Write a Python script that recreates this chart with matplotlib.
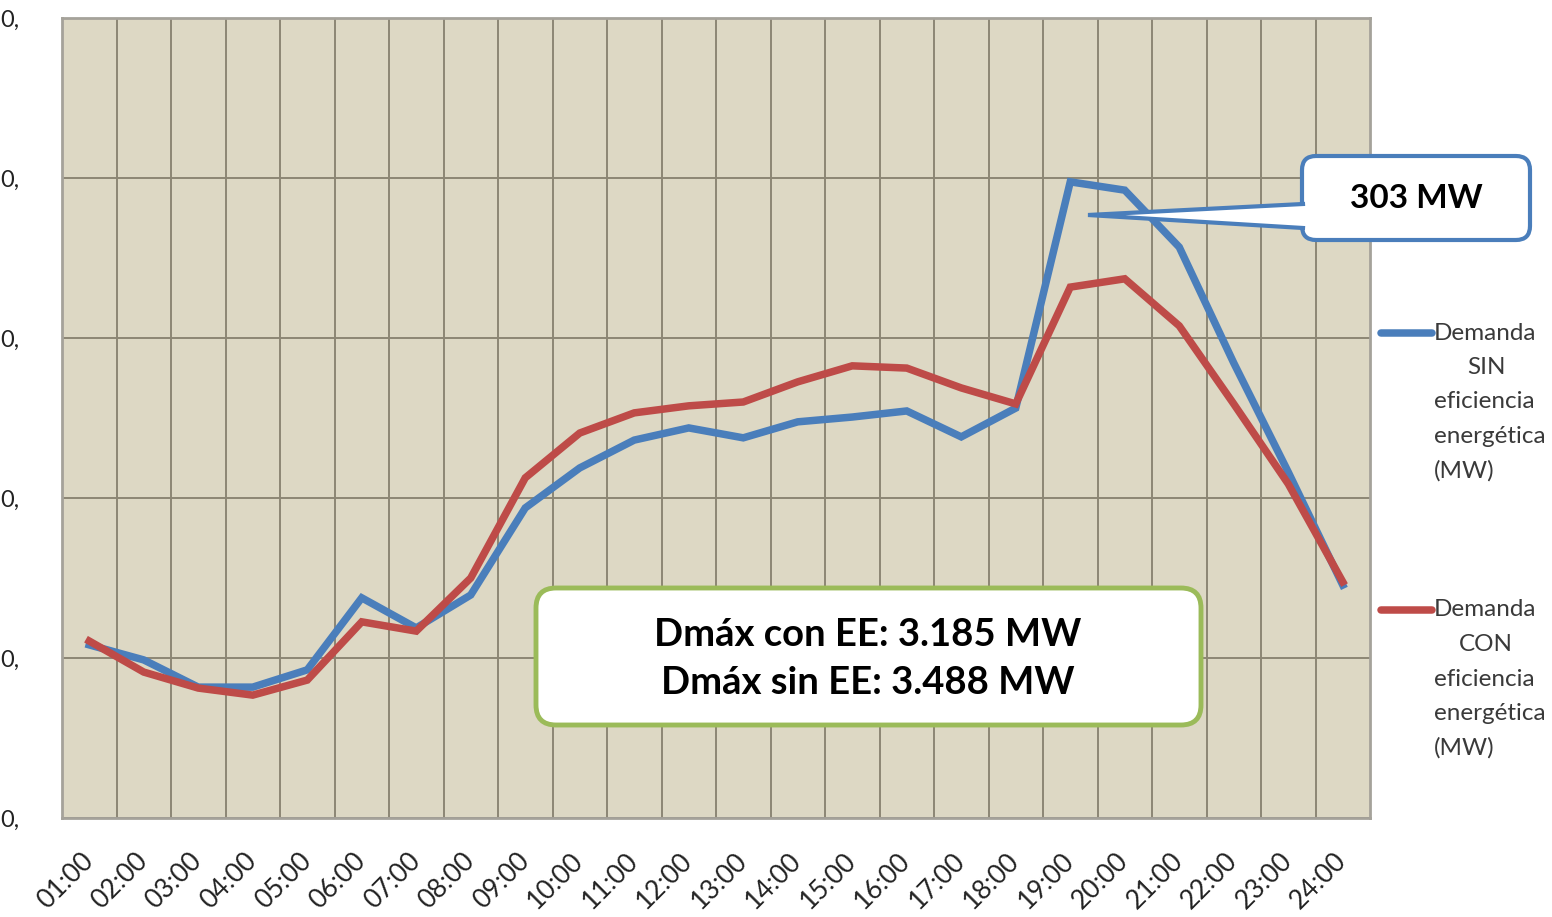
import matplotlib
matplotlib.use("Agg")
import matplotlib.pyplot as plt
from matplotlib.patches import FancyBboxPatch, Polygon

plt.rcParams['font.family'] = ['Lato', 'DejaVu Sans']

hours = ["01:00", "02:00", "03:00", "04:00", "05:00", "06:00", "07:00", "08:00",
         "09:00", "10:00", "11:00", "12:00", "13:00", "14:00", "15:00", "16:00",
         "17:00", "18:00", "19:00", "20:00", "21:00", "22:00", "23:00", "24:00"]
sin_ee = [2041, 1994, 1909, 1909, 1963, 2188, 2094, 2197, 2469, 2594, 2681, 2719,
          2688, 2738, 2753, 2772, 2691, 2781, 3488, 3462, 3284, 2922, 2581, 2228]
con_ee = [2053, 1956, 1906, 1884, 1931, 2113, 2084, 2250, 2563, 2703, 2766, 2788,
          2800, 2863, 2913, 2906, 2844, 2794, 3159, 3185, 3038, 2794, 2544, 2238]
y_ticks = [1500, 2000, 2500, 3000, 3500, 4000]
y_tick_labels = ["0,", "0,", "0,", "0,", "0,", "0,"]
legend_sin = ["Demanda", "SIN", "eficiencia", "energética", "(MW)"]
legend_con = ["Demanda", "CON", "eficiencia", "energética", "(MW)"]
callout_text = "303 MW"
box_text = "Dmáx con EE: 3.185 MW\nDmáx sin EE: 3.488 MW"

W, H = 1552, 917
fig = plt.figure(figsize=(W / 100, H / 100), dpi=100)
fig.patch.set_facecolor("white")

L, R, T, B = 62, 1370, 18, 818
ax = fig.add_axes([L / W, (H - B) / H, (R - L) / W, (B - T) / H])
ax.set_facecolor("#DDD8C4")

blue = "#4A7EBB"
red = "#BE4B48"
x = list(range(len(hours)))
ax.plot(x, sin_ee, color=blue, lw=5.4, solid_joinstyle="miter", zorder=3)
ax.plot(x, con_ee, color=red, lw=5.4, solid_joinstyle="miter", zorder=4)

ax.set_xlim(-0.5, len(hours) - 0.5)
ax.set_ylim(1500, 4000)
ax.set_xticks(x)
ax.set_xticklabels(hours, rotation=45, ha="right", va="center",
                   rotation_mode="anchor", fontsize=19, color="#222222")
ax.set_xticks([i + 0.5 for i in x[:-1]], minor=True)
ax.set_yticks(y_ticks)
ax.set_yticklabels(y_tick_labels, fontsize=17, color="#222222")
ax.tick_params(axis="y", length=0, pad=31)
ax.tick_params(axis="x", which="major", length=0, pad=28)
ax.tick_params(axis="x", which="minor", length=0)
ax.grid(axis="x", which="minor", color="#8C8674", lw=1.4)
ax.grid(axis="y", which="major", color="#8C8674", lw=1.4)
ax.set_axisbelow(True)
for s in ax.spines.values():
    s.set_color("#A5A29A")
    s.set_linewidth(2)

# overlay for annotations (pixel coordinates)
ov = fig.add_axes([0, 0, 1, 1], facecolor="none")
ov.set_xlim(0, W)
ov.set_ylim(H, 0)
ov.axis("off")

# callout box 303 MW
cb = FancyBboxPatch((1302, 156), 228, 84, boxstyle="round,pad=0,rounding_size=14",
                    facecolor="white", edgecolor=blue, lw=3, zorder=5)
ov.add_patch(cb)
ov.add_patch(Polygon([(1306, 204), (1088, 215), (1306, 228)], closed=True,
                     facecolor="white", edgecolor="none", zorder=6))
ov.plot([1303, 1088, 1303], [204, 215, 228], color=blue, lw=3, zorder=7,
        solid_joinstyle="miter")
ov.text(1416, 199, callout_text, ha="center", va="center", fontsize=24,
        fontweight="bold", color="black", zorder=8)

# green box
gb = FancyBboxPatch((536, 588), 665, 137, boxstyle="round,pad=0,rounding_size=20",
                    facecolor="white", edgecolor="#9BBB59", lw=3.5, zorder=5)
ov.add_patch(gb)
ov.text(868, 659, box_text, ha="center", va="center", fontsize=27.5,
        fontweight="bold", color="black", linespacing=1.5, zorder=8)

# legend
def legend_block(y0, color, lines):
    ov.plot([1381, 1432], [y0, y0], color=color, lw=5.4, solid_capstyle="round", zorder=5)
    for i, t in enumerate(lines):
        yy = y0 + i * 34.5
        if i == 1:
            ov.text(1486, yy, t, ha="center", va="center", fontsize=17.5, color="#3A3A3A")
        else:
            ov.text(1434, yy, t, ha="left", va="center", fontsize=17.5, color="#3A3A3A")

legend_block(333, blue, legend_sin)
legend_block(610, red, legend_con)

fig.savefig("out.png", dpi=100, facecolor="white")
